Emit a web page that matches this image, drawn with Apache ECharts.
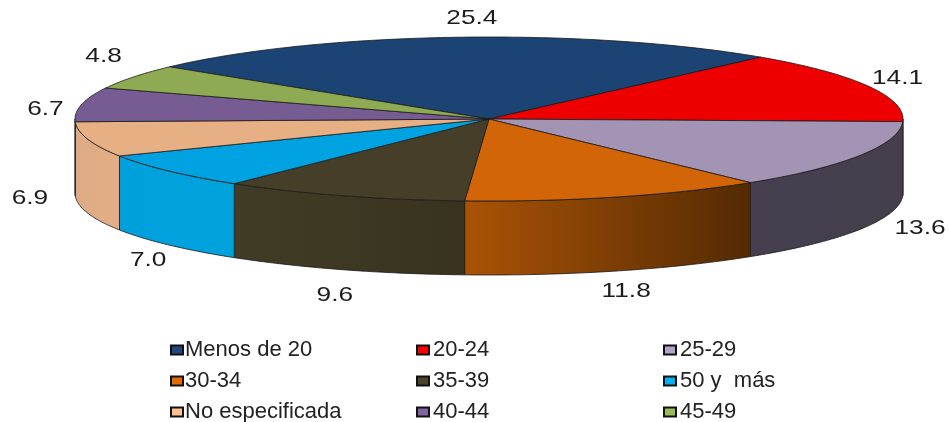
<!DOCTYPE html>
<html><head><meta charset="utf-8">
<style>html,body{margin:0;padding:0;background:#fff}#c{width:949px;height:422px}</style>
<script src="https://cdn.jsdelivr.net/npm/echarts@6/dist/echarts.min.js"></script>
</head><body><div id="c"></div>
<script>
const categories = ['Menos de 20','20-24','25-29','30-34','35-39','50 y  más','No especificada','40-44','45-49'];
const values = [25.4,14.1,13.6,11.8,9.6,7.0,6.9,6.7,4.8];
const valueLabels = ['25.4','14.1','13.6','11.8','9.6','7.0','6.9','6.7','4.8'];
const topColors = ['#1b4374','#ee0000','#a393b5','#d26507','#453f29','#00a2e2','#e7af84','#775b93','#8eab53'];
const legendColors = ['#1f497d','#ff0000','#b3a2c7','#e36c09','#4a452a','#00b0f0','#fac090','#8064a2','#9bbb59'];
const sideLeft = ['#1b4374','#ee0000','#463f4f','#aa5305','#413c25','#00a0dc','#dcab85','#775b93','#8eab53'];
const sideRight = ['#1b4374','#ee0000','#453e4d','#532a03','#37331f','#00a2dc','#e3ae84','#775b93','#8eab53'];
const labelShift = [[17,-19],[29,-8],[60,-1],[10,20],[-8,25],[-21,15],[-58,-15],[-36,5],[-30,-21]];
const legendColumns = [[0,3,6],[1,4,7],[2,5,8]];
const legendLeft = [170,416,663];
const legendTextPad = [-3,-1,-1];

const CX=489, CY=119, RX=414, RY=82, DEPTH=74, START=-50.5*Math.PI/180, DEG=Math.PI/180;
const total = values.reduce((a,b)=>a+b,0);
const pt=(a,dy)=>[CX+RX*Math.sin(a), CY-RY*Math.cos(a)+(dy||0)];
function arc(a0,a1,dy){const n=Math.max(2,Math.ceil((a1-a0)/DEG));const p=[];for(let i=0;i<=n;i++)p.push(pt(a0+(a1-a0)*i/n,dy));return p;}
const starts=[];values.reduce((s,v,i)=>{starts[i]=s;return s+v;},0);

function render(i){
  return function(params,api){
    const v=api.value(0);
    const a0=START+starts[i]/total*2*Math.PI, a1=a0+v/total*2*Math.PI, mid=(a0+a1)/2;
    const children=[];
    const s0=Math.max(a0,Math.PI/2), s1=Math.min(a1,Math.PI*1.5);
    if(s1>s0){
      const up=arc(s0,s1,0), down=arc(s0,s1,DEPTH).reverse();
      children.push({type:'polygon',z2:1,shape:{points:up.concat(down)},
        style:{fill:{type:'linear',x:0,y:0,x2:1,y2:0,colorStops:[{offset:0,color:sideLeft[i]},{offset:1,color:sideRight[i]}]},stroke:'#1a1a1a',lineWidth:0.8}});
    }
    children.push({type:'polygon',z2:2,shape:{points:[[CX,CY]].concat(arc(a0,a1,0))},
      style:{fill:topColors[i],stroke:'#1a1a1a',lineWidth:0.8,lineJoin:'round'}});
    const front=Math.cos(mid)<0;
    const anchor=pt(mid,front?DEPTH:0);
    children.push({type:'text',z2:3,x:anchor[0]+labelShift[i][0],y:anchor[1]+labelShift[i][1],scaleX:1.25,
      style:{x:0,y:0,text:valueLabels[i],align:'center',verticalAlign:'middle',fill:'#1c1c1c',
        font:'21px "Liberation Sans"'}});
    return {type:'group',children};
  };
}
const series=categories.map((name,i)=>({
  type:'custom',name,coordinateSystem:'none',silent:true,animation:false,clip:false,
  itemStyle:{color:legendColors[i]},
  data:[[values[i]]],renderItem:render(i)
}));
const legend=legendColumns.map((col,k)=>({
  orient:'vertical',left:legendLeft[k],top:334,height:115,padding:[5,5,5,0],itemWidth:12,itemHeight:9,itemGap:9,
  data:col.map(i=>({name:categories[i],icon:'rect'})),selectedMode:false,
  itemStyle:{borderColor:'#111',borderWidth:2},
  textStyle:{fontFamily:'Liberation Sans',fontSize:22,color:'#222',padding:[0,0,0,legendTextPad[k]]}
}));
const chart=echarts.init(document.getElementById('c'),null,{renderer:'canvas'});
chart.setOption({animation:false,backgroundColor:'#fff',legend,series});
</script></body></html>
